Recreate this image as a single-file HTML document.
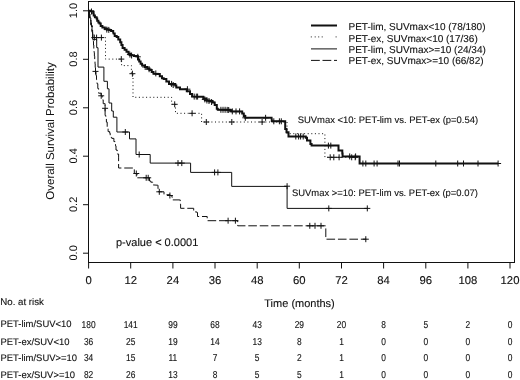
<!DOCTYPE html>
<html><head><meta charset="utf-8"><style>
html,body{margin:0;padding:0;background:#fff;width:520px;height:380px;overflow:hidden;}
svg{display:block;will-change:transform;}
text{font-family:"Liberation Sans",sans-serif;fill:#111;stroke:#111;stroke-width:0.12px;text-rendering:geometricPrecision;}
</style></head><body>
<svg width="520" height="380" viewBox="0 0 520 380">
<rect x="88.5" y="1.5" width="426" height="261" fill="none" stroke="#111" stroke-width="1"/>
<line x1="83" y1="253.2" x2="88.5" y2="253.2" stroke="#111" stroke-width="1"/>
<text font-size="11" text-anchor="middle" style="stroke:none" transform="translate(77,252.9) rotate(-90)">0.0</text>
<line x1="83" y1="204.7" x2="88.5" y2="204.7" stroke="#111" stroke-width="1"/>
<text font-size="11" text-anchor="middle" style="stroke:none" transform="translate(77,204.4) rotate(-90)">0.2</text>
<line x1="83" y1="156.2" x2="88.5" y2="156.2" stroke="#111" stroke-width="1"/>
<text font-size="11" text-anchor="middle" style="stroke:none" transform="translate(77,155.9) rotate(-90)">0.4</text>
<line x1="83" y1="107.8" x2="88.5" y2="107.8" stroke="#111" stroke-width="1"/>
<text font-size="11" text-anchor="middle" style="stroke:none" transform="translate(77,107.5) rotate(-90)">0.6</text>
<line x1="83" y1="59.3" x2="88.5" y2="59.3" stroke="#111" stroke-width="1"/>
<text font-size="11" text-anchor="middle" style="stroke:none" transform="translate(77,59.0) rotate(-90)">0.8</text>
<line x1="83" y1="10.8" x2="88.5" y2="10.8" stroke="#111" stroke-width="1"/>
<text font-size="11" text-anchor="middle" style="stroke:none" transform="translate(77,10.5) rotate(-90)">1.0</text>
<line x1="88.6" y1="262.5" x2="88.6" y2="268.5" stroke="#111" stroke-width="1"/>
<text font-size="11.3" text-anchor="middle" x="88.6" y="284.1">0</text>
<line x1="130.7" y1="262.5" x2="130.7" y2="268.5" stroke="#111" stroke-width="1"/>
<text font-size="11.3" text-anchor="middle" x="130.7" y="284.1">12</text>
<line x1="172.9" y1="262.5" x2="172.9" y2="268.5" stroke="#111" stroke-width="1"/>
<text font-size="11.3" text-anchor="middle" x="172.9" y="284.1">24</text>
<line x1="215.0" y1="262.5" x2="215.0" y2="268.5" stroke="#111" stroke-width="1"/>
<text font-size="11.3" text-anchor="middle" x="215.0" y="284.1">36</text>
<line x1="257.2" y1="262.5" x2="257.2" y2="268.5" stroke="#111" stroke-width="1"/>
<text font-size="11.3" text-anchor="middle" x="257.2" y="284.1">48</text>
<line x1="299.3" y1="262.5" x2="299.3" y2="268.5" stroke="#111" stroke-width="1"/>
<text font-size="11.3" text-anchor="middle" x="299.3" y="284.1">60</text>
<line x1="341.5" y1="262.5" x2="341.5" y2="268.5" stroke="#111" stroke-width="1"/>
<text font-size="11.3" text-anchor="middle" x="341.5" y="284.1">72</text>
<line x1="383.6" y1="262.5" x2="383.6" y2="268.5" stroke="#111" stroke-width="1"/>
<text font-size="11.3" text-anchor="middle" x="383.6" y="284.1">84</text>
<line x1="425.8" y1="262.5" x2="425.8" y2="268.5" stroke="#111" stroke-width="1"/>
<text font-size="11.3" text-anchor="middle" x="425.8" y="284.1">96</text>
<line x1="467.9" y1="262.5" x2="467.9" y2="268.5" stroke="#111" stroke-width="1"/>
<text font-size="11.3" text-anchor="middle" x="467.9" y="284.1">108</text>
<line x1="510.0" y1="262.5" x2="510.0" y2="268.5" stroke="#111" stroke-width="1"/>
<text font-size="11.3" text-anchor="middle" x="510.0" y="284.1">120</text>
<text font-size="11" x="264.3" y="307.4">Time (months)</text>
<text font-size="11.5" text-anchor="middle" style="stroke:none" transform="translate(53.7,131) rotate(-90)">Overall Survival Probability</text>
<path d="M88.60,10.80 L91.00,10.80 L91.00,11.20 L93.20,11.20 L93.20,13.20 L93.70,13.20 L93.70,15.50 L94.90,15.50 L94.90,17.20 L96.60,17.20 L96.60,18.40 L97.20,18.40 L97.20,20.70 L98.40,20.70 L98.40,22.40 L99.50,22.40 L99.50,23.60 L100.70,23.60 L100.70,25.90 L102.40,25.90 L102.40,27.40 L104.80,27.40 L104.80,28.80 L107.00,28.80 L107.00,29.40 L109.40,29.40 L109.40,30.00 L111.10,30.00 L111.10,31.10 L113.20,31.10 L113.20,32.50 L113.50,33.50 L114.70,33.50 L114.70,35.90 L116.70,35.90 L116.70,37.10 L118.30,37.10 L118.30,39.40 L120.20,39.40 L120.20,42.20 L121.40,42.20 L121.40,45.00 L122.60,45.00 L122.60,48.10 L124.60,48.10 L124.60,49.70 L126.50,49.70 L126.50,51.70 L128.50,51.70 L128.50,54.00 L130.90,54.00 L130.90,55.20 L134.00,55.20 L134.00,56.00 L137.70,56.00 L137.70,56.80 L138.00,56.80 L138.00,59.40 L139.20,59.40 L139.20,61.60 L140.60,61.60 L140.60,63.80 L142.10,63.80 L142.10,65.60 L145.00,65.60 L145.00,67.10 L147.30,67.10 L147.30,68.60 L149.50,68.60 L149.50,70.10 L151.70,70.10 L151.70,71.90 L153.50,71.90 L153.50,73.70 L157.60,73.90 L159.80,73.90 L159.80,76.30 L162.00,76.30 L162.00,78.20 L163.70,78.20 L163.70,78.90 L166.35,78.90 L166.35,81.40 L169.00,81.40 L169.00,83.90 L175.30,83.90 L175.30,85.50 L176.30,85.50 L176.30,87.60 L180.00,87.60 L180.00,89.20 L186.30,89.20 L186.80,89.20 L186.80,91.30 L190.00,91.30 L190.00,94.00 L192.10,94.00 L192.10,96.60 L201.20,96.80 L203.30,96.80 L203.30,98.40 L206.40,98.40 L206.40,100.50 L209.50,100.50 L209.50,101.00 L212.60,101.00 L212.60,102.50 L214.70,102.50 L214.70,105.10 L216.80,105.10 L216.80,108.80 L217.80,108.80 L217.80,109.80 L230.30,109.80 L230.30,110.30 L231.30,110.30 L231.30,111.40 L240.70,111.40 L242.20,111.40 L242.20,113.40 L243.80,113.40 L243.80,116.00 L245.30,116.00 L245.30,117.80 L271.60,117.80 L271.90,121.30 L285.20,121.30 L285.20,129.00 L286.50,129.00 L286.50,132.30 L288.50,132.30 L288.50,136.50 L305.20,136.50 L305.80,136.50 L305.80,137.70 L307.00,137.70 L307.00,140.60 L309.30,140.60 L310.40,140.60 L310.40,144.00 L311.60,144.00 L311.60,145.60 L338.50,145.60 L338.50,150.40 L342.00,150.40 L342.30,150.40 L342.30,153.40 L342.60,153.40 L342.60,156.40 L359.60,156.40 L359.60,163.50 L498.10,163.50" fill="none" stroke="#111" stroke-width="2" stroke-linejoin="miter"/>
<path d="M88.5,11.5H94.5M91.5,8.5V14.5M103.8,29.6H109.8M106.8,26.6V32.6M105.8,29.9H111.8M108.8,26.9V32.9M126.9,54.6H132.9M129.9,51.6V57.6M128.6,55.5H134.6M131.6,52.5V58.5M134.8,56.8H140.8M137.8,53.8V59.8M142.2,67.0H148.2M145.2,64.0V70.0M146.1,69.2H152.1M149.1,66.2V72.2M152.8,73.4H158.8M155.8,70.4V76.4M168.6,83.9H174.6M171.6,80.9V86.9M170.2,85.0H176.2M173.2,82.0V88.0M184.4,89.2H190.4M187.4,86.2V92.2M191.2,96.6H197.2M194.2,93.6V99.6M193.3,96.6H199.3M196.3,93.6V99.6M194.6,96.6H200.6M197.6,93.6V99.6M201.8,99.4H207.8M204.8,96.4V102.4M203.9,100.5H209.9M206.9,97.5V103.5M206.0,101.0H212.0M209.0,98.0V104.0M208.6,102.0H214.6M211.6,99.0V105.0M217.9,109.8H223.9M220.9,106.8V112.8M220.0,109.8H226.0M223.0,106.8V112.8M222.1,109.8H228.1M225.1,106.8V112.8M224.2,109.9H230.2M227.2,106.9V112.9M225.7,110.0H231.7M228.7,107.0V113.0M229.3,111.4H235.3M232.3,108.4V114.4M233.0,111.4H239.0M236.0,108.4V114.4M236.6,111.4H242.6M239.6,108.4V114.4M242.3,117.8H248.3M245.3,114.8V120.8M262.6,117.8H268.6M265.6,114.8V120.8M270.8,121.3H276.8M273.8,118.3V124.3M276.4,121.3H282.4M279.4,118.3V124.3M278.3,121.3H284.3M281.3,118.3V124.3M292.8,136.5H298.8M295.8,133.5V139.5M295.6,136.5H301.6M298.6,133.5V139.5M297.6,136.5H303.6M300.6,133.5V139.5M300.2,136.5H306.2M303.2,133.5V139.5M325.4,145.6H331.4M328.4,142.6V148.6M327.8,145.6H333.8M330.8,142.6V148.6M346.7,156.4H352.7M349.7,153.4V159.4M352.6,156.4H358.6M355.6,153.4V159.4M359.9,163.5H365.9M362.9,160.5V166.5M362.8,163.5H368.8M365.8,160.5V166.5M371.1,163.5H377.1M374.1,160.5V166.5M374.1,163.5H380.1M377.1,160.5V166.5M395.0,163.5H401.0M398.0,160.5V166.5M396.5,163.5H402.5M399.5,160.5V166.5M432.8,163.5H438.8M435.8,160.5V166.5M454.7,163.5H460.7M457.7,160.5V166.5M460.5,163.5H466.5M463.5,160.5V166.5M475.0,163.5H481.0M478.0,160.5V166.5M495.1,163.5H501.1M498.1,160.5V166.5" fill="none" stroke="#111" stroke-width="1"/>
<path d="M88.6,10.8 H89.5 V17.6 H90.5 V24.4 H91.5 V31 H92.5 V37.6 H105.5 V59.1 H121.6 V65.6 H131.4 V73.7 H133 V97.3 H171.6 V104.3 H175.5 V113.3 H201.6 V122 H287 V133.7 H324.9 V157.3 H355.5" fill="none" stroke="#111" stroke-width="1" stroke-dasharray="1 2.6"/>
<path d="M91.3,37.6H97.3M94.3,34.6V40.6M93.6,37.6H99.6M96.6,34.6V40.6M98.4,37.6H104.4M101.4,34.6V40.6M118.3,59.1H124.3M121.3,56.1V62.1M129.4,73.7H135.4M132.4,70.7V76.7M171.7,104.3H177.7M174.7,101.3V107.3M189.1,113.3H195.1M192.1,110.3V116.3M203.3,122.0H209.3M206.3,119.0V125.0M228.8,122.0H234.8M231.8,119.0V125.0M259.1,122.0H265.1M262.1,119.0V125.0M327.2,157.3H333.2M330.2,154.3V160.3M330.8,157.3H336.8M333.8,154.3V160.3M336.1,157.3H342.1M339.1,154.3V160.3M348.7,157.3H354.7M351.7,154.3V160.3M352.2,157.3H358.2M355.2,154.3V160.3" fill="none" stroke="#111" stroke-width="1"/>
<path d="M88.6,10.8 H89.5 V17.9 H90.8 V25.1 H92 V32.2 H92.6 V39.4 H96.7 V47.7 H98 V67.1 H103.9 V81.3 H107.4 V88.8 H109 V103 H111.7 V111 H113.3 V117.2 H116.9 V132 H129.5 V138.9 H136 V154.5 H150.2 V163.1 H190.6 V172.4 H231.7 V186.4 H287.1 V208.4 H367.3" fill="none" stroke="#111" stroke-width="1"/>
<path d="M122.3,132.0H128.3M125.3,129.0V135.0M136.2,154.5H142.2M139.2,151.5V157.5M175.0,163.1H181.0M178.0,160.1V166.1M178.8,163.1H184.8M181.8,160.1V166.1M211.6,172.4H217.6M214.6,169.4V175.4M214.9,172.4H220.9M217.9,169.4V175.4M284.1,186.2H290.1M287.1,183.2V189.2M325.8,208.4H331.8M328.8,205.4V211.4M364.3,208.4H370.3M367.3,205.4V211.4" fill="none" stroke="#111" stroke-width="1"/>
<path d="M88.6,10.8 L89.5,10.8 L89.5,14.0 L90.0,14.0 L90.0,17.0 L90.5,17.0 L90.5,20.0 L91.0,20.0 L91.0,23.0 L91.5,23.0 L91.5,26.0 L92.3,26.0 L92.3,30.0 L92.6,30.0 L92.6,33.8 L92.9,33.8 L92.9,37.5 L93.2,37.5 L93.2,41.2 L93.5,41.2 L93.5,45.0 L93.8,45.0 L93.8,48.8 L94.1,48.8 L94.1,52.5 L94.4,52.5 L94.4,56.2 L94.7,56.2 L94.7,60.0 L95.0,60.0 L95.0,63.8 L95.2,63.8 L95.2,67.6 L95.5,67.6 L95.5,71.4 L96.0,71.4 L96.0,75.5 L96.5,75.5 L96.5,79.6 L97.0,79.6 L97.0,83.7 L97.8,83.7 L97.8,88.5 L98.6,88.5 L98.6,93.2 L101.2,93.2 L101.2,95.8 L102.2,95.8 L102.2,99.8 L103.2,99.8 L103.2,103.7 L105.1,103.7 L105.1,108.3 L105.1,115.5 L105.8,115.5 L105.8,118.8 L106.4,118.8 L106.4,122.1 L107.2,122.1 L107.2,126.8 L108.1,126.8 L108.1,131.6 L109.7,131.6 L109.7,133.2 L110.2,133.2 L110.2,137.4 L111.8,137.4 L111.8,138.4 L113.9,138.4 L113.9,141.6 L115.5,141.6 L115.5,145.8 L116.0,145.8 L116.0,150.0 L117.2,150.0 L117.2,154.0 L118.6,154.0 L118.6,157.9 L118.6,168.0" fill="none" stroke="#111" stroke-width="1" stroke-dasharray="8.6 2.85" stroke-dashoffset="0"/>
<path d="M118.6,168.0 L133.7,168.0 L134.3,168.0 L134.3,173.5 L137.0,173.5 L137.0,177.8 L148.0,177.8 L149.5,177.8 L149.5,181.0 L150.8,181.0 L150.8,182.2 L152.8,182.2 L152.8,184.9 L157.4,185.2 L158.0,185.2 L158.0,188.8 L158.5,188.8 L158.5,191.8 L163.0,191.8 L164.0,191.8 L164.0,194.7 L170.0,194.7 L170.0,195.5 L171.8,195.5 L171.8,196.7 L172.2,196.7 L172.2,199.9 L179.8,199.9 L180.2,199.9 L180.2,204.1 L180.6,204.1 L180.6,208.3 L193.0,208.3 L193.7,208.3 L193.7,211.9 L196.8,211.9 L196.8,212.5 L197.5,212.5 L197.5,216.5 L207.2,216.5" fill="none" stroke="#111" stroke-width="1" stroke-dasharray="8.6 2.85" stroke-dashoffset="5.8"/>
<path d="M207.2,216.5 L207.2,220.7 L237.7,220.7 L237.7,225.8 L325.8,225.8 L325.8,239.2 L366.2,239.2" fill="none" stroke="#111" stroke-width="1" stroke-dasharray="8.6 2.85" stroke-dashoffset="6.85"/>
<path d="M92.5,71.4H98.5M95.5,68.4V74.4M98.2,95.8H104.2M101.2,92.8V98.8M102.1,108.3H108.1M105.1,105.3V111.3M133.3,173.5H139.3M136.3,170.5V176.5M143.2,177.8H149.2M146.2,174.8V180.8M145.2,177.8H151.2M148.2,174.8V180.8M156.3,191.8H162.3M159.3,188.8V194.8M166.9,195.5H172.9M169.9,192.5V198.5M225.1,220.7H231.1M228.1,217.7V223.7M232.4,220.7H238.4M235.4,217.7V223.7M306.8,225.8H312.8M309.8,222.8V228.8M312.0,225.8H318.0M315.0,222.8V228.8M318.0,225.8H324.0M321.0,222.8V228.8M362.8,239.2H368.8M365.8,236.2V242.2" fill="none" stroke="#111" stroke-width="1"/>
<text font-size="10" x="348.5" y="30.3">PET-lim, SUVmax&lt;10 (78/180)</text>
<text font-size="10" x="348.5" y="41.7">PET-ex, SUVmax&lt;10 (17/36)</text>
<text font-size="10" x="348.5" y="53.0">PET-lim, SUVmax&gt;=10 (24/34)</text>
<text font-size="10" x="348.5" y="64.4">PET-ex, SUVmax&gt;=10 (66/82)</text>
<line x1="311" y1="25.5" x2="337" y2="25.5" stroke="#111" stroke-width="2"/>
<rect x="310.8" y="36.4" width="1" height="1" fill="#222"/>
<rect x="314.7" y="36.4" width="1" height="1" fill="#222"/>
<rect x="318.2" y="36.4" width="1" height="1" fill="#222"/>
<rect x="321.7" y="36.4" width="1" height="1" fill="#222"/>
<rect x="335.6" y="36.4" width="1" height="1" fill="#222"/>
<line x1="311" y1="48.9" x2="337" y2="48.9" stroke="#111" stroke-width="1"/>
<line x1="311" y1="60.4" x2="337" y2="60.4" stroke="#111" stroke-width="1" stroke-dasharray="8.8 2.7"/>
<text font-size="9.45" x="297.7" y="123.0">SUVmax &lt;10: PET-lim vs. PET-ex (p=0.54)</text>
<text font-size="9.45" x="291.9" y="195.8">SUVmax &gt;=10: PET-lim vs. PET-ex (p=0.07)</text>
<text font-size="11" x="116" y="245.8">p-value &lt; 0.0001</text>
<text font-size="9.7" x="0.3" y="305.3">No. at risk</text>
<text font-size="9.45" x="0.45" y="327.4">PET-lim/SUV&lt;10</text>
<text font-size="10" text-anchor="middle" transform="translate(88.6,327.6) scale(0.84,1)">180</text>
<text font-size="10" text-anchor="middle" transform="translate(130.7,327.6) scale(0.84,1)">141</text>
<text font-size="10" text-anchor="middle" transform="translate(172.9,327.6) scale(0.84,1)">99</text>
<text font-size="10" text-anchor="middle" transform="translate(215.0,327.6) scale(0.84,1)">68</text>
<text font-size="10" text-anchor="middle" transform="translate(257.2,327.6) scale(0.84,1)">43</text>
<text font-size="10" text-anchor="middle" transform="translate(299.3,327.6) scale(0.84,1)">29</text>
<text font-size="10" text-anchor="middle" transform="translate(341.5,327.6) scale(0.84,1)">20</text>
<text font-size="10" text-anchor="middle" transform="translate(383.6,327.6) scale(0.84,1)">8</text>
<text font-size="10" text-anchor="middle" transform="translate(425.8,327.6) scale(0.84,1)">5</text>
<text font-size="10" text-anchor="middle" transform="translate(467.9,327.6) scale(0.84,1)">2</text>
<text font-size="10" text-anchor="middle" transform="translate(510.0,327.6) scale(0.84,1)">0</text>
<text font-size="9.45" x="0.45" y="344.5">PET-ex/SUV&lt;10</text>
<text font-size="10" text-anchor="middle" transform="translate(88.6,344.7) scale(0.84,1)">36</text>
<text font-size="10" text-anchor="middle" transform="translate(130.7,344.7) scale(0.84,1)">25</text>
<text font-size="10" text-anchor="middle" transform="translate(172.9,344.7) scale(0.84,1)">19</text>
<text font-size="10" text-anchor="middle" transform="translate(215.0,344.7) scale(0.84,1)">14</text>
<text font-size="10" text-anchor="middle" transform="translate(257.2,344.7) scale(0.84,1)">13</text>
<text font-size="10" text-anchor="middle" transform="translate(299.3,344.7) scale(0.84,1)">8</text>
<text font-size="10" text-anchor="middle" transform="translate(341.5,344.7) scale(0.84,1)">1</text>
<text font-size="10" text-anchor="middle" transform="translate(383.6,344.7) scale(0.84,1)">0</text>
<text font-size="10" text-anchor="middle" transform="translate(425.8,344.7) scale(0.84,1)">0</text>
<text font-size="10" text-anchor="middle" transform="translate(467.9,344.7) scale(0.84,1)">0</text>
<text font-size="10" text-anchor="middle" transform="translate(510.0,344.7) scale(0.84,1)">0</text>
<text font-size="9.45" x="0.45" y="361.2">PET-lim/SUV&gt;=10</text>
<text font-size="10" text-anchor="middle" transform="translate(88.6,361.4) scale(0.84,1)">34</text>
<text font-size="10" text-anchor="middle" transform="translate(130.7,361.4) scale(0.84,1)">15</text>
<text font-size="10" text-anchor="middle" transform="translate(172.9,361.4) scale(0.84,1)">11</text>
<text font-size="10" text-anchor="middle" transform="translate(215.0,361.4) scale(0.84,1)">7</text>
<text font-size="10" text-anchor="middle" transform="translate(257.2,361.4) scale(0.84,1)">5</text>
<text font-size="10" text-anchor="middle" transform="translate(299.3,361.4) scale(0.84,1)">2</text>
<text font-size="10" text-anchor="middle" transform="translate(341.5,361.4) scale(0.84,1)">1</text>
<text font-size="10" text-anchor="middle" transform="translate(383.6,361.4) scale(0.84,1)">0</text>
<text font-size="10" text-anchor="middle" transform="translate(425.8,361.4) scale(0.84,1)">0</text>
<text font-size="10" text-anchor="middle" transform="translate(467.9,361.4) scale(0.84,1)">0</text>
<text font-size="10" text-anchor="middle" transform="translate(510.0,361.4) scale(0.84,1)">0</text>
<text font-size="9.45" x="0.45" y="377.7">PET-ex/SUV&gt;=10</text>
<text font-size="10" text-anchor="middle" transform="translate(88.6,377.9) scale(0.84,1)">82</text>
<text font-size="10" text-anchor="middle" transform="translate(130.7,377.9) scale(0.84,1)">26</text>
<text font-size="10" text-anchor="middle" transform="translate(172.9,377.9) scale(0.84,1)">13</text>
<text font-size="10" text-anchor="middle" transform="translate(215.0,377.9) scale(0.84,1)">8</text>
<text font-size="10" text-anchor="middle" transform="translate(257.2,377.9) scale(0.84,1)">5</text>
<text font-size="10" text-anchor="middle" transform="translate(299.3,377.9) scale(0.84,1)">5</text>
<text font-size="10" text-anchor="middle" transform="translate(341.5,377.9) scale(0.84,1)">1</text>
<text font-size="10" text-anchor="middle" transform="translate(383.6,377.9) scale(0.84,1)">0</text>
<text font-size="10" text-anchor="middle" transform="translate(425.8,377.9) scale(0.84,1)">0</text>
<text font-size="10" text-anchor="middle" transform="translate(467.9,377.9) scale(0.84,1)">0</text>
<text font-size="10" text-anchor="middle" transform="translate(510.0,377.9) scale(0.84,1)">0</text>
</svg></body></html>
